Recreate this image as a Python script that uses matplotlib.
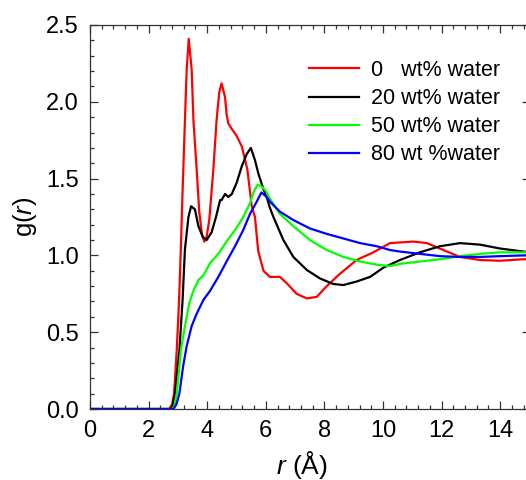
import numpy as np
import matplotlib
matplotlib.use('Agg')
import matplotlib.pyplot as plt
from matplotlib.ticker import MultipleLocator

plt.rcParams['font.family'] = ['Liberation Sans', 'DejaVu Sans']
plt.rcParams['mathtext.fontset'] = 'custom'
plt.rcParams['mathtext.rm'] = 'Liberation Sans'
plt.rcParams['mathtext.it'] = 'Liberation Sans:italic'

# g(r), one r list per curve
r_0 = [0, 2.7, 2.8, 2.87, 2.96, 3.04, 3.1, 3.15, 3.24, 3.3, 3.37, 3.47, 3.53, 3.64, 3.73,
       3.82, 3.9, 3.98, 4.07, 4.21, 4.32, 4.41, 4.49, 4.61, 4.66, 4.72, 4.85, 5.0, 5.18,
       5.37, 5.52, 5.63, 5.74, 5.92, 6.14, 6.48, 6.71, 7.05, 7.4, 7.74, 8.08, 8.53, 9.1,
       9.67, 10.24, 11.03, 11.5, 12.06, 12.63, 13.31, 13.99, 14.79, 15.0]
g_0 = [0, 0, 0.03, 0.10, 0.38, 0.71, 1.04, 1.36, 1.88, 2.21, 2.41, 2.21, 1.88, 1.56, 1.28,
       1.14, 1.09, 1.12, 1.23, 1.56, 1.88, 2.06, 2.12, 2.03, 1.92, 1.86, 1.82, 1.78, 1.71,
       1.56, 1.32, 1.25, 1.03, 0.90, 0.86, 0.86, 0.82, 0.75, 0.72, 0.73, 0.80, 0.88, 0.97,
       1.02, 1.08, 1.09, 1.08, 1.035, 0.99, 0.97, 0.965, 0.975, 0.975]

r_20 = [0, 2.75, 2.82, 2.9, 3.05, 3.16, 3.24, 3.36, 3.45, 3.58, 3.7, 3.85, 3.98, 4.15, 4.3,
        4.44, 4.49, 4.61, 4.72, 4.84, 5.0, 5.18, 5.35, 5.49, 5.63, 5.75, 5.92, 6.03, 6.14,
        6.26, 6.6, 6.94, 7.4, 7.85, 8.3, 8.65, 9.1, 9.56, 10.01, 10.58, 11.26, 11.95, 12.63,
        13.31, 13.99, 14.79, 15.0]
g_20 = [0, 0, 0.02, 0.10, 0.38, 0.71, 1.04, 1.25, 1.32, 1.30, 1.19, 1.12, 1.10, 1.15, 1.25,
        1.36, 1.36, 1.40, 1.38, 1.40, 1.47, 1.58, 1.66, 1.70, 1.62, 1.53, 1.43, 1.38, 1.31,
        1.25, 1.10, 0.99, 0.905, 0.85, 0.814, 0.807, 0.83, 0.86, 0.92, 0.97, 1.02, 1.06, 1.08,
        1.07, 1.045, 1.025, 1.02]

r_50 = [0, 2.8, 2.88, 2.96, 3.1, 3.24, 3.39, 3.53, 3.7, 3.87, 4.1, 4.38, 4.66, 4.95, 5.23,
        5.46, 5.6, 5.72, 5.85, 6.0, 6.14, 6.48, 6.94, 7.51, 8.08, 8.65, 9.22, 9.78, 10.24,
        10.58, 11.26, 11.95, 12.63, 13.31, 13.99, 14.79, 15.0]
g_50 = [0, 0, 0.02, 0.10, 0.38, 0.54, 0.69, 0.77, 0.84, 0.87, 0.95, 1.01, 1.09, 1.165, 1.25,
        1.34, 1.42, 1.46, 1.45, 1.42, 1.37, 1.27, 1.19, 1.10, 1.035, 0.99, 0.96, 0.94, 0.93,
        0.945, 0.96, 0.975, 0.995, 1.01, 1.02, 1.02, 1.02]

r_80 = [0, 2.85, 2.95, 3.05, 3.18, 3.3, 3.47, 3.64, 3.87, 4.1, 4.38, 4.66, 4.95, 5.23, 5.46,
        5.69, 5.85, 6.03, 6.14, 6.48, 6.94, 7.51, 8.08, 8.65, 9.22, 9.78, 10.24, 10.58, 11.26,
        11.95, 12.63, 13.31, 13.99, 14.79, 15.0]
g_80 = [0, 0, 0.03, 0.10, 0.28, 0.41, 0.54, 0.62, 0.71, 0.77, 0.86, 0.96, 1.06, 1.165, 1.27,
        1.35, 1.41, 1.38, 1.35, 1.285, 1.23, 1.175, 1.14, 1.11, 1.08, 1.06, 1.035, 1.025, 1.01,
        0.995, 0.99, 0.99, 0.995, 1.0, 1.0]

labels = ['0   wt% water', '20 wt% water', '50 wt% water', '80 wt %water']
colors = ['#ff0000', '#000000', '#00ff00', '#0000ff']

fig = plt.figure(figsize=(5.26, 4.8), dpi=100)
ax = fig.add_axes([90/526, 1 - 409/480, 439.5/526, 384/480])

for rr, gg, lab, c in zip([r_0, r_20, r_50, r_80], [g_0, g_20, g_50, g_80], labels, colors):
    ax.plot(rr, gg, color=c, lw=1.6, label=lab)

ax.set_xlim(0, 15)
ax.set_ylim(0, 2.5)
ax.xaxis.set_major_locator(MultipleLocator(2))
ax.xaxis.set_minor_locator(MultipleLocator(0.4))
ax.yaxis.set_major_locator(MultipleLocator(0.5))
ax.yaxis.set_minor_locator(MultipleLocator(0.1))
ax.yaxis.set_major_formatter(plt.FormatStrFormatter('%.1f'))
ax.tick_params(which='both', direction='in', top=True, right=True, width=0.9, colors='#333333',
               labelcolor='black', labelsize=17)
ax.tick_params(which='major', length=6)
ax.tick_params(which='minor', length=3)
ax.tick_params(axis='x', pad=8)
ax.tick_params(axis='y', pad=8)
for s in ax.spines.values():
    s.set_color('#333333')
    s.set_linewidth(0.9)

ax.set_xlabel(r'$\mathit{r}$ (Å)', fontsize=19)
ax.xaxis.set_label_coords((302 - 90) / 439.5, -0.105)
ax.set_ylabel(r'g($\mathit{r}$)', fontsize=18.5, labelpad=5)

ax.legend(loc='upper left', bbox_to_anchor=(309/526, 1 - 60/480), bbox_transform=fig.transFigure,
          frameon=False, fontsize=15.5, handlelength=2.3, handletextpad=0.6,
          labelspacing=0.33, borderpad=0, borderaxespad=0)

fig.savefig('out.png', dpi=100)
